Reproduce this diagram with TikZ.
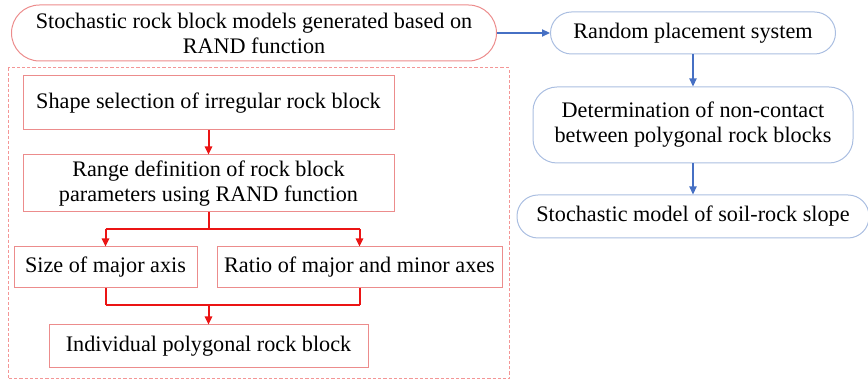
\documentclass[tikz,border=0pt]{standalone}
\usepackage{fontspec}
\setmainfont{Liberation Serif}
\usepackage{xcolor}
\usetikzlibrary{positioning, arrows.meta, calc}

\definecolor{boxred}{RGB}{236,140,140}
\definecolor{dashred}{RGB}{244,150,150}
\definecolor{boxblue}{RGB}{170,190,225}
\definecolor{arrowblue}{RGB}{70,112,196}
\definecolor{linered}{RGB}{235,20,20}

\tikzset{
  redbox/.style={draw=boxred, line width=0.5pt, align=center, inner sep=1pt},
  bluebox/.style={draw=boxblue, line width=0.5pt, align=center, inner sep=1pt},
  redline/.style={draw=linered, line width=1pt},
  redarrow/.style={redline, fill=linered, -{Triangle[length=4pt,width=3.6pt]}},
  bluearrow/.style={draw=arrowblue, fill=arrowblue, line width=0.6pt, -{Triangle[length=4pt,width=3.6pt]}}
}

\begin{document}
\begin{tikzpicture}[font=\fontsize{11.1}{12.5}\selectfont]
\useasboundingbox (0,0) rectangle (434pt,-191.5pt);
\node[redbox, rounded corners=14pt, minimum width=242.5pt, minimum height=28pt](rand) at (127pt,-16.5pt){Stochastic rock block models generated based on\\RAND function};
\node[bluebox, rounded corners=10.5pt, minimum width=142.5pt, minimum height=21pt, right = 26.5pt of rand](place){Random placement system};
\node[bluebox, rounded corners=12pt, minimum width=160pt, minimum height=38pt, below = 16pt of place](contact){Determination of non-contact\\between polygonal rock blocks};
\node[bluebox, rounded corners=10.5pt, minimum width=176pt, minimum height=21.5pt, below = 15.5pt of contact](slope){Stochastic model of soil-rock slope};
\draw[draw=dashred, dash pattern=on 1.6pt off 1pt, line width=0.5pt] (4pt,-34pt) rectangle (254.5pt,-189.5pt);
\node[redbox, minimum width=185.5pt, minimum height=27pt](shape) at (104.25pt,-51.5pt){Shape selection of irregular rock block};
\node[redbox, minimum width=185.5pt, minimum height=28.5pt, below = 12pt of shape](range){Range definition of rock block\\parameters using RAND function};
\node[redbox, minimum width=91.5pt, minimum height=20.5pt](size) at (52.75pt,-133.75pt){Size of major axis};
\node[redbox, minimum width=142.5pt, minimum height=20.5pt](ratio) at (179.75pt,-133.75pt){Ratio of major and minor axes};
\node[redbox, minimum width=159.5pt, minimum height=21.5pt](block) at (104.25pt,-173.25pt){Individual polygonal rock block};
\coordinate(split) at ($(range.south)+(0,-8.5pt)$);
\coordinate(join) at ($(block.north)+(0,9.5pt)$);
\coordinate(sizetop) at (size.north |- split);
\coordinate(ratiotop) at (ratio.north |- split);
\coordinate(sizebot) at (size.south |- join);
\coordinate(ratiobot) at (ratio.south |- join);
\draw[bluearrow] (rand) -- (place);
\draw[bluearrow] (place) -- (contact);
\draw[bluearrow] (contact) -- (slope);
\draw[redarrow] (shape) -- (range);
% branching to the two parameters
\draw[redline] (range.south) -- (split);
\draw[redline] (sizetop) -- (ratiotop);
\draw[redarrow] (sizetop) -- (size.north);
\draw[redarrow] (ratiotop) -- (ratio.north);
% merging into the rock block
\draw[redline] (size.south) -- (sizebot);
\draw[redline] (ratio.south) -- (ratiobot);
\draw[redline] (sizebot) -- (ratiobot);
\draw[redarrow] (join) -- (block);
\end{tikzpicture}
\end{document}
